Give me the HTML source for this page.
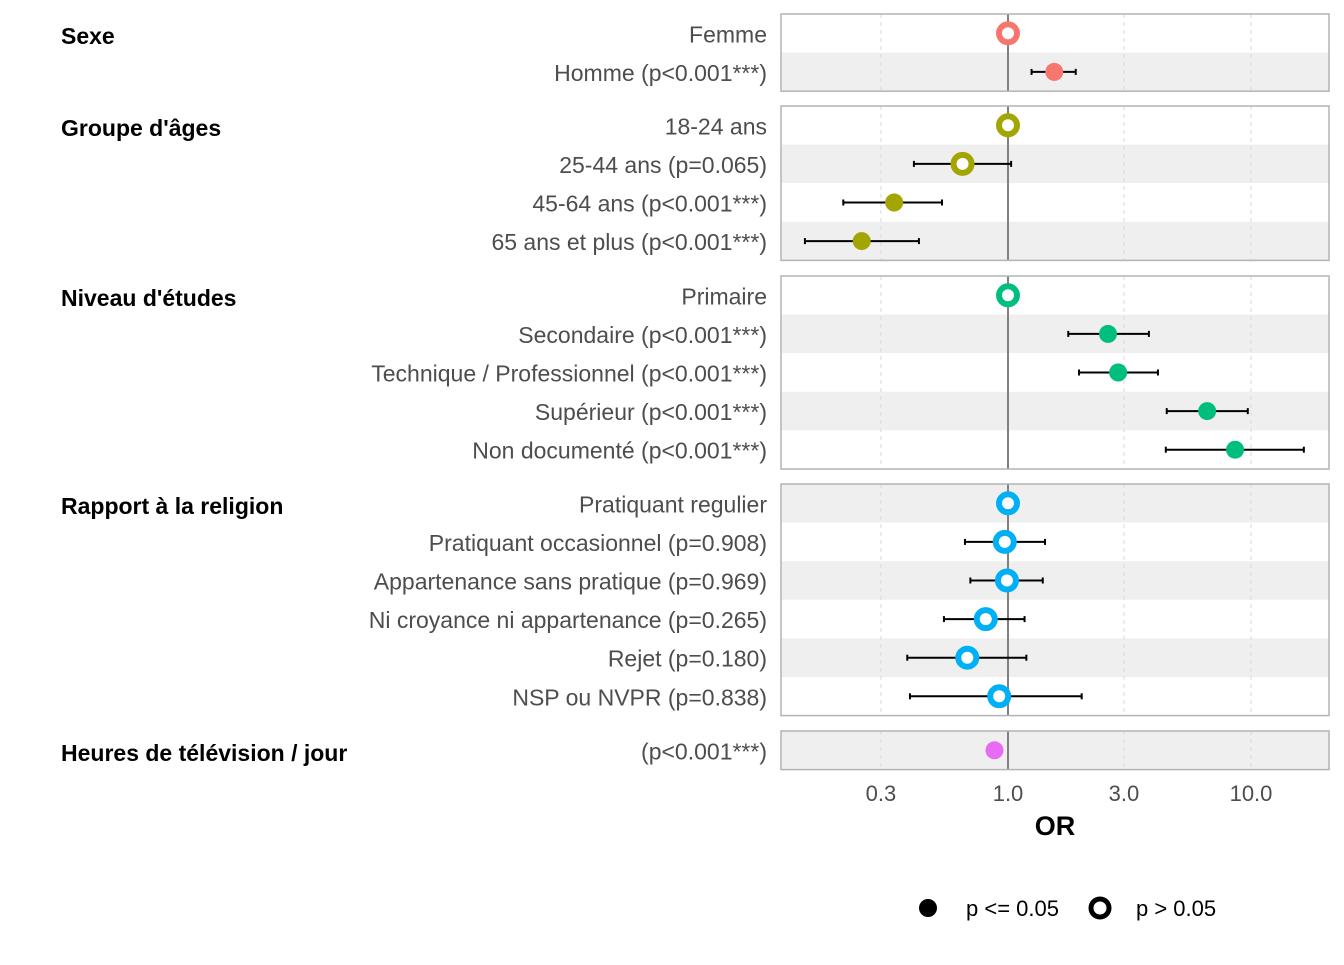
<!DOCTYPE html>
<html><head><meta charset="utf-8"><style>
body{margin:0;background:#fff;font-family:"Liberation Sans",Arial,sans-serif}
</style></head><body>
<svg id="c" width="1344" height="960" xmlns="http://www.w3.org/2000/svg"></svg>
<script>
const groups=["Sexe","Groupe d'âges","Niveau d'études","Rapport à la religion","Heures de télévision / jour"];
const groupColors=["#F8766D","#A3A500","#00BF7D","#00B0F6","#E76BF3"];
const labels=[["Femme","Homme (p<0.001***)"],["18-24 ans","25-44 ans (p=0.065)","45-64 ans (p<0.001***)","65 ans et plus (p<0.001***)"],["Primaire","Secondaire (p<0.001***)","Technique / Professionnel (p<0.001***)","Supérieur (p<0.001***)","Non documenté (p<0.001***)"],["Pratiquant regulier","Pratiquant occasionnel (p=0.908)","Appartenance sans pratique (p=0.969)","Ni croyance ni appartenance (p=0.265)","Rejet (p=0.180)","NSP ou NVPR (p=0.838)"],["(p<0.001***)"]];
const orValues=[[1,1.55],[1,0.65,0.34,0.25],[1,2.58,2.84,6.6,8.6],[1,0.97,0.99,0.81,0.68,0.92],[0.88]];
const ciLow=[[null,1.25],[null,0.41,0.21,0.146],[null,1.77,1.96,4.5,4.46],[null,0.665,0.70,0.545,0.385,0.395],[0.87]];
const ciHigh=[[null,1.9],[null,1.03,0.535,0.43],[null,3.8,4.14,9.7,16.5],[null,1.42,1.39,1.17,1.19,2.01],[0.89]];
const significant=[[false,true],[false,false,true,true],[false,true,true,true,true],[false,false,false,false,false,false],[true]];
const ticks=[0.3,1,3,10];
const tickLabels=["0.3","1.0","3.0","10.0"];
const stripes=[[0,1],[0,1,0,1],[0,1,0,1,0],[1,0,1,0,1,0],[1]];
const panelTops=[14,106,276,484,731];

const svg=document.getElementById('c');const NS="http://www.w3.org/2000/svg";
function el(t,a,p){const e=document.createElementNS(NS,t);for(const k in a)e.setAttribute(k,a[k]);(p||svg).appendChild(e);return e;}
const X0=781,X1=1329;
const xs=v=>1008+Math.log10(v)*243;
const rowH=38.6;
groups.forEach((g,gi)=>{
  const top=panelTops[gi],n=labels[gi].length,bot=top+n*rowH;
  const grp=el('g',{});
  
  
  for(let r=0;r<n;r++){
    el('rect',{x:X0,y:top+r*rowH,width:X1-X0,height:rowH,fill:stripes[gi][r]?'#efefef':'#fff'},grp);
  }
  ticks.forEach(t=>{ if(t!==1) el('line',{x1:xs(t),x2:xs(t),y1:top,y2:bot,stroke:'#d9d9d9','stroke-dasharray':'4,4','stroke-width':1},grp);});
  el('line',{x1:xs(1),x2:xs(1),y1:top,y2:bot,stroke:'#808080','stroke-width':2},grp);
  el('rect',{x:X0,y:top,width:X1-X0,height:bot-top,fill:'none',stroke:'#b3b3b3','stroke-width':1.5},grp);
  const h=el('text',{x:61,y:top+19+11,'font-size':23,'font-weight':'bold',fill:'#000'},grp);h.textContent=g;
  
  
  labels[gi].forEach((lb,r)=>{
    const cy=top+r*rowH+rowH/2;
    const t=el('text',{x:767,y:cy+9,'font-size':23,fill:'#4d4d4d','text-anchor':'end'},grp);t.textContent=lb;
    
    
    if(ciLow[gi][r]!=null){
      const a=xs(ciLow[gi][r]),b=xs(ciHigh[gi][r]);
      el('line',{x1:a,x2:b,y1:cy,y2:cy,stroke:'#000','stroke-width':2},grp);
      el('line',{x1:a,x2:a,y1:cy-3,y2:cy+3,stroke:'#000','stroke-width':2},grp);
      el('line',{x1:b,x2:b,y1:cy-3,y2:cy+3,stroke:'#000','stroke-width':2},grp);
    }
    const px=xs(orValues[gi][r]);
    const c=significant[gi][r]?el('circle',{cx:px,cy:cy,r:9,fill:groupColors[gi]},grp):el('circle',{cx:px,cy:cy,r:9,fill:'#fff',stroke:groupColors[gi],'stroke-width':6},grp);
    
    
  });
});
ticks.forEach((t,i)=>{const e=el('text',{x:xs(t),y:801,'font-size':22,fill:'#4d4d4d','text-anchor':'middle'});e.textContent=tickLabels[i];

});
const xt=el('text',{x:1055,y:835,'font-size':27,'font-weight':'bold','text-anchor':'middle'});xt.textContent='OR';


const lg=el('g',{});


el('circle',{cx:928,cy:908,r:9,fill:'#000'},lg);
let t1=el('text',{x:966,y:916,'font-size':22,fill:'#000'},lg);t1.textContent='p <= 0.05';
el('circle',{cx:1100,cy:908,r:9,fill:'#fff',stroke:'#000','stroke-width':5},lg);
let t2=el('text',{x:1136,y:916,'font-size':22,fill:'#000'},lg);t2.textContent='p > 0.05';
</script>
</body></html>
